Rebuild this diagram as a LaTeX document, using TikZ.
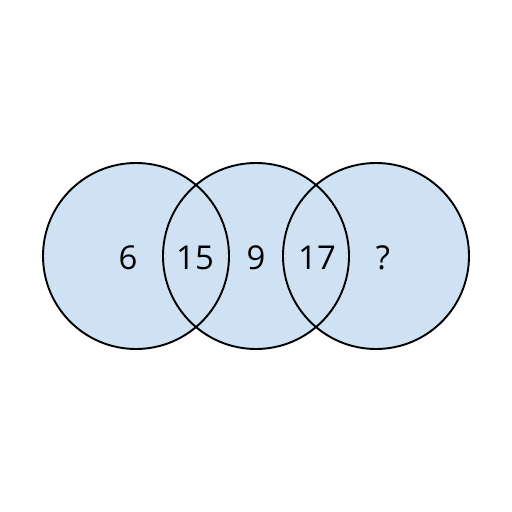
\documentclass[tikz,border=0pt]{standalone}
\usepackage{fontspec}
\setmainfont{Open Sans}
\definecolor{venn}{HTML}{CFE2F3}
\begin{document}
\begin{tikzpicture}[x=1bp, y=1bp, line width=1.9bp]
    \useasboundingbox (0, 0) rectangle (512, 512);
    \tikzset{num/.style={font=\fontsize{33}{40}\selectfont, inner sep=0pt}}

    \fill[venn] (136, 256) circle (93);
    \fill[venn] (256, 256) circle (93);
    \fill[venn] (376, 256) circle (93);
    \draw (136, 256) circle (93);
    \draw (256, 256) circle (93);
    \draw (376, 256) circle (93);

    \node[num] (a) at (128, 254) {6};
    \node[num] (ab) at (195, 254) {15};
    \node[num] (b) at (256, 254) {9};
    \node[num] (bc) at (317, 254) {17};
    \node[num] (c) at (383, 254) {?};
  \end{tikzpicture}
\end{document}
